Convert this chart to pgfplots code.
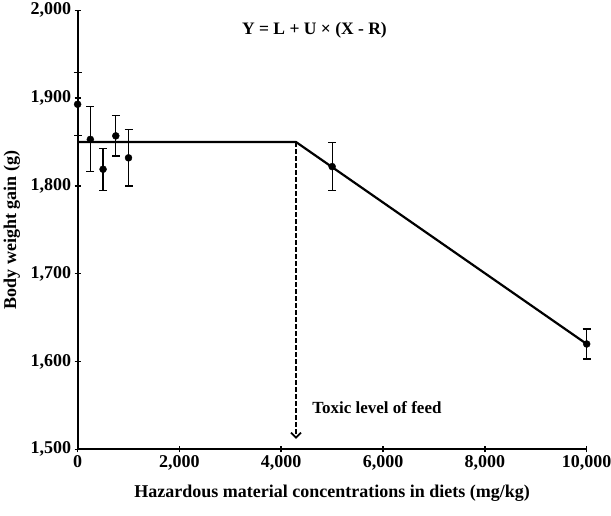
\documentclass[border=0pt]{standalone}
\usepackage{fontspec}
\setmainfont{Liberation Serif}
\usepackage{pgfplots}
\pgfplotsset{compat=1.18}
\usetikzlibrary{arrows.meta,calc}
\begin{document}
\begin{tikzpicture}
\begin{axis}[
  name=ax,
  scale only axis, width=509pt, height=439pt,
  xmin=0, xmax=10000, ymin=1500, ymax=2000,
  axis x line*=bottom, axis y line*=left,
  axis line style={line width=2.2pt, -},
  xtick={0,2000,4000,6000,8000,10000},
  ytick={1500,1600,1700,1800,1900,2000},
  scaled x ticks=false, scaled y ticks=false,
  tick style={line width=1.5pt, black},
  major tick length=6pt, tick align=center,
  /pgf/number format/.cd, fixed, 1000 sep={,}, assume math mode=true,
  /pgfplots/.cd,
  ticklabel style={font=\fontsize{18}{21}\selectfont\bfseries},
  xlabel={Hazardous material concentrations in diets (mg/kg)},
  ylabel={Body weight gain (g)},
  label style={font=\fontsize{18}{21}\selectfont\bfseries},
  xlabel style={at={(axis description cs:0.5,-0.1)}, anchor=center},
  ylabel style={at={(axis description cs:-0.1289,0.5)}, anchor=center},
  clip=false,
]
\addplot[line width=2.2pt, black] coordinates {(0,1850) (4290,1850) (10000,1620)};
\addplot[dashed, dash pattern=on 4.5pt off 2.5pt, line width=1.7pt, black, -{Straight Barb[length=5pt,width=10pt,line width=1.7pt]}] coordinates {(4290,1850) (4290,1512)};
\addplot[only marks, mark=*, mark size=3.5pt, black,
  error bars/.cd, y dir=both, y explicit,
  error bar style={line width=1.2pt, black},
  error mark options={rotate=90, mark size=4pt, line width=1.2pt, black}]
  coordinates {
  (0,1893) +- (0,36)
  (250,1853) +- (0,37)
  (500,1819) +- (0,24)
  (750,1857) +- (0,23)
  (1000,1832) +- (0,32)
  (5000,1822) +- (0,27)
  (10000,1620) +- (0,17)
  };
\node[font=\fontsize{17.5}{20}\selectfont\bfseries, anchor=east, inner sep=0pt] at (axis cs:6077,1977) {Y = L + U × (X - R)};
\node[font=\fontsize{17}{20}\selectfont\bfseries, anchor=west, inner sep=0pt] at (axis cs:4606,1548) {Toxic level of feed};
\end{axis}
\pgfresetboundingbox
\useasboundingbox ($(ax.south west)+(-77.6pt,-65.7pt)$) rectangle ($(ax.north east)+(24.3pt,10.3pt)$);
\end{tikzpicture}
\end{document}
